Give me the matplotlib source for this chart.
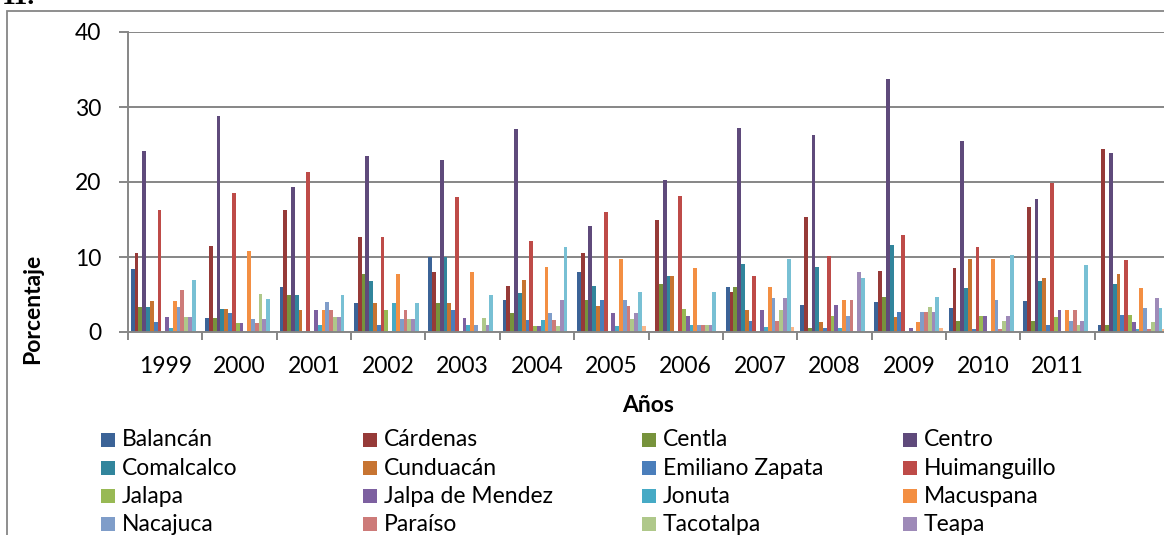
import numpy as np
import matplotlib.pyplot as plt
from matplotlib.patches import Rectangle

W, H = 1164, 535

# datos (porcentaje por municipio y año)
years = ['1999', '2000', '2001', '2002', '2003', '2004', '2005', '2006',
         '2007', '2008', '2009', '2010', '2011', '']

balancan = [8.4, 1.9, 6.0, 3.9, 10.0, 4.3, 7.95, 0, 6.0, 3.6, 4.05, 3.2, 4.15, 0.9]
cardenas = [10.6, 11.5, 16.3, 12.7, 7.95, 6.1, 10.6, 15.0, 5.3, 15.3, 8.2, 8.6, 16.65, 24.4]
centla = [3.4, 1.9, 5.0, 7.8, 3.9, 2.6, 4.3, 6.4, 6.0, 0.6, 4.7, 1.5, 1.5, 0.9]
centro = [24.1, 28.8, 19.3, 23.5, 22.9, 27.1, 14.2, 20.3, 27.2, 26.25, 33.7, 25.5, 17.7, 23.9]
comalcalco = [3.4, 3.1, 5.0, 6.8, 10.0, 5.2, 6.2, 7.45, 9.1, 8.7, 11.65, 5.9, 6.75, 6.4]
cunduacan = [4.2, 3.1, 3.0, 3.9, 3.9, 7.0, 3.5, 7.45, 2.95, 1.4, 2.0, 9.7, 7.2, 7.8]
zapata = [1.4, 2.5, 0, 0.9, 2.9, 1.65, 4.3, 0, 1.5, 0.6, 2.7, 0.45, 1.0, 2.3]
huimanguillo = [16.25, 18.5, 21.4, 12.7, 18.0, 12.2, 16.0, 18.2, 7.5, 10.2, 13.0, 11.4, 19.9, 9.6]
jalapa = [0, 1.2, 0, 2.9, 0, 0.8, 0, 3.1, 0, 2.1, 0, 2.1, 2.0, 2.3]
jalpa = [2.05, 1.2, 3.0, 0, 1.9, 0.8, 2.6, 2.1, 2.95, 3.6, 0.55, 2.1, 3.0, 1.4]
jonuta = [0.6, 0, 0.9, 3.9, 0.9, 1.65, 0.8, 1.0, 0.7, 0.6, 0, 0, 0, 0.4]
macuspana = [4.2, 10.85, 3.0, 7.8, 7.95, 8.7, 9.7, 8.5, 6.0, 4.3, 1.4, 9.7, 3.0, 5.9]
nacajuca = [3.4, 1.8, 4.0, 1.8, 0.9, 2.6, 4.3, 1.0, 4.5, 2.1, 2.7, 4.3, 1.5, 3.2]
paraiso = [5.6, 1.2, 3.0, 2.9, 0, 1.65, 3.5, 1.0, 1.5, 4.3, 2.7, 0.45, 3.0, 0.4]
tacotalpa = [2.05, 5.1, 2.0, 1.8, 1.9, 0.8, 1.7, 1.0, 2.95, 0, 3.4, 1.5, 1.0, 1.4]
teapa = [2.05, 1.8, 2.0, 1.8, 0.9, 4.3, 2.6, 1.0, 4.5, 7.95, 2.7, 2.1, 1.5, 4.55]
tenosique = [7.0, 4.4, 5.0, 3.9, 4.95, 11.3, 5.3, 5.3, 9.7, 7.2, 4.7, 10.3, 8.9, 3.2]
otros = [0, 0, 0, 0, 0, 0, 0.8, 0, 0.7, 0, 0.55, 0, 0, 0.4]

names = ['Balancán', 'Cárdenas', 'Centla', 'Centro', 'Comalcalco', 'Cunduacán',
         'Emiliano Zapata', 'Huimanguillo', 'Jalapa', 'Jalpa de Mendez', 'Jonuta',
         'Macuspana', 'Nacajuca', 'Paraíso', 'Tacotalpa', 'Teapa', 'Tenosique',
         'No especificado']
series = [balancan, cardenas, centla, centro, comalcalco, cunduacan, zapata,
          huimanguillo, jalapa, jalpa, jonuta, macuspana, nacajuca, paraiso,
          tacotalpa, teapa, tenosique, otros]
colors = ['#3B6397', '#963A38', '#77933C', '#5F4A7B', '#31859C', '#C77431',
          '#4A7EBB', '#BE4B48', '#98B954', '#7D60A0', '#46AAC5', '#F38F43',
          '#7F9DC9', '#CD7B79', '#AFC88A', '#9E8AB8', '#78C0D4', '#F9B78A']

plt.rcParams['font.family'] = ['Lato', 'DejaVu Sans']
GREY = '#868686'
FS = 16.5

fig = plt.figure(figsize=(W / 100, H / 100), dpi=100)

# marco exterior del grafico
fig.add_artist(Rectangle((7 / W, -0.1), 1.2, 1.1 - 11 / H, transform=fig.transFigure,
                         fill=False, edgecolor=GREY, lw=1.3))
fig.text(2 / W, 1 - 4 / H, '11.', fontsize=20, fontweight='bold',
         family='Liberation Serif', va='baseline', ha='left')

gw = 74.36  # ancho de cada grupo en px
ax = fig.add_axes([128 / W, (H - 332) / H, 14 * gw / W, 300 / H])

n = len(series)
w = 1 / (n + 1.5)
x = np.arange(len(years))
for j, (vals, c) in enumerate(zip(series, colors)):
    ax.bar(x + (j - (n - 1) / 2) * w, vals, width=w, color=c, lw=0, zorder=2)

ax.set_xlim(-0.5, len(years) - 0.5)
ax.set_ylim(0, 40)
ax.set_yticks([0, 10, 20, 30, 40])
ax.yaxis.grid(True, color=GREY, lw=1.4)
ax.set_axisbelow(True)

ax.set_xticks(np.arange(len(years) + 1) - 0.5)
ax.set_xticklabels([])
ax.set_xticks(x, minor=True)
ax.set_xticklabels(years, minor=True)

for s in ['top', 'right']:
    ax.spines[s].set_visible(False)
for s in ['left', 'bottom']:
    ax.spines[s].set_color(GREY)
    ax.spines[s].set_linewidth(1.4)
    ax.spines[s].set_zorder(3)

ax.tick_params(axis='y', length=6.3, width=1.4, color=GREY, pad=13, labelsize=FS)
ax.tick_params(axis='x', which='major', length=5.5, width=1.4, color=GREY)
ax.tick_params(axis='x', which='minor', length=0, pad=17, labelsize=FS)

fig.text(33 / W, 1 - 309 / H, 'Porcentaje', rotation=90, fontsize=FS,
         fontweight='bold', ha='center', va='center')
fig.text(648 / W, 1 - 405 / H, 'Años', fontsize=FS, fontweight='bold',
         ha='center', va='center')

# leyenda a mano, 4 columnas (las ultimas filas quedan fuera del recorte)
col_x = [101, 363, 642, 903]
row_y = 439.5
row_h = 28.2
for i, (name, c) in enumerate(zip(names, colors)):
    cx = col_x[i % 4]
    cy = row_y + (i // 4) * row_h
    fig.add_artist(Rectangle((cx / W, 1 - (cy + 7) / H), 14 / W, 14 / H,
                             transform=fig.transFigure, color=c, lw=0))
    fig.text((cx + 21) / W, 1 - (cy + 7) / H, name, fontsize=FS,
             ha='left', va='baseline')

fig.savefig('out.png', dpi=100)
